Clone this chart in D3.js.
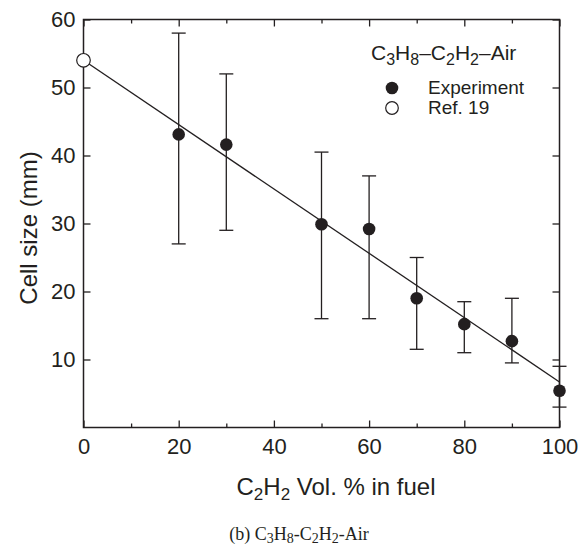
<!DOCTYPE html>
<html>
<head>
<meta charset="utf-8">
<script src="https://cdn.jsdelivr.net/npm/d3@7"></script>
<style>
  html, body { margin: 0; padding: 0; background: #fff; }
  svg { display: block; }
  text { font-family: "Liberation Sans", Arial, Helvetica, sans-serif; fill: #231f20; }
</style>
</head>
<body>
<div id="chart"></div>
<script>
// ---- data ----
const c2h2Pct     = [20, 30, 50, 60, 70, 80, 90, 100];
const cellSize    = [43.1, 41.6, 29.9, 29.2, 19.0, 15.2, 12.7, 5.4];
const errUpper    = [58, 52, 40.5, 37, 25, 18.5, 19, 9];
const errLower    = [27, 29, 16, 16, 11.5, 11, 9.5, 3];
const refPct      = [0];
const refCell     = [54];
const fitPct      = [0, 100];
const fitCell     = [54, 6.7];
const xMajorTicks = [0, 20, 40, 60, 80, 100];
const xMinorTicks = [10, 30, 50, 70, 90];
const yTicks      = [10, 20, 30, 40, 50, 60];

const W = 587, H = 550;
const ink = "#231f20";
const svg = d3.select("#chart").append("svg").attr("width", W).attr("height", H);

const x = d3.scaleLinear().domain([0, 100]).range([83.5, 559.5]);
const y = d3.scaleLinear().domain([0, 60]).range([427.5, 19.5]);

const plot = svg.append("g");

// frame
plot.append("rect")
  .attr("x", x(0)).attr("y", y(60))
  .attr("width", x(100) - x(0)).attr("height", y(0) - y(60))
  .attr("fill", "none").attr("stroke", ink).attr("stroke-width", 1.5);

// bottom axis (ticks inward)
const gxb = plot.append("g").attr("transform", `translate(0,${y(0)})`)
  .call(d3.axisBottom(x).tickValues(xMajorTicks).tickSizeInner(-7).tickSizeOuter(0).tickPadding(11));
const gxbm = plot.append("g").attr("transform", `translate(0,${y(0)})`)
  .call(d3.axisBottom(x).tickValues(xMinorTicks).tickSizeInner(-4).tickSizeOuter(0).tickFormat(""));
// top axis
const gxt = plot.append("g").attr("transform", `translate(0,${y(60)})`)
  .call(d3.axisTop(x).tickValues(xMajorTicks).tickSizeInner(-7).tickSizeOuter(0).tickFormat(""));
const gxtm = plot.append("g").attr("transform", `translate(0,${y(60)})`)
  .call(d3.axisTop(x).tickValues(xMinorTicks).tickSizeInner(-4).tickSizeOuter(0).tickFormat(""));
// left axis
const gyl = plot.append("g").attr("transform", `translate(${x(0)},0)`)
  .call(d3.axisLeft(y).tickValues(yTicks).tickSizeInner(-7).tickSizeOuter(0).tickPadding(8));
// right axis
const gyr = plot.append("g").attr("transform", `translate(${x(100)},0)`)
  .call(d3.axisRight(y).tickValues(yTicks).tickSizeInner(-7).tickSizeOuter(0).tickFormat(""));

[gxb, gxbm, gxt, gxtm, gyl, gyr].forEach(g => {
  g.select(".domain").remove();
  g.selectAll(".tick line").attr("stroke", ink).attr("stroke-width", 1.3);
  g.selectAll(".tick text").attr("font-size", 22).attr("fill", ink)
    .attr("font-family", "Liberation Sans, Arial, sans-serif");
});

// fit line
plot.append("path")
  .datum(fitPct.map((p, i) => [p, fitCell[i]]))
  .attr("d", d3.line().x(d => x(d[0])).y(d => y(d[1])))
  .attr("fill", "none").attr("stroke", ink).attr("stroke-width", 1.3);

// error bars
const eb = plot.append("g").attr("stroke", ink).attr("stroke-width", 1.3);
c2h2Pct.forEach((p, i) => {
  eb.append("line").attr("x1", x(p)).attr("x2", x(p)).attr("y1", y(errUpper[i])).attr("y2", y(errLower[i]));
  eb.append("line").attr("x1", x(p) - 7).attr("x2", x(p) + 7).attr("y1", y(errUpper[i])).attr("y2", y(errUpper[i]));
  eb.append("line").attr("x1", x(p) - 7).attr("x2", x(p) + 7).attr("y1", y(errLower[i])).attr("y2", y(errLower[i]));
});

// experiment points
plot.append("g").selectAll("circle").data(c2h2Pct).join("circle")
  .attr("cx", d => x(d)).attr("cy", (d, i) => y(cellSize[i])).attr("r", 6.3)
  .attr("fill", ink);

// ref points
plot.append("g").selectAll("circle").data(refPct).join("circle")
  .attr("cx", d => x(d)).attr("cy", (d, i) => y(refCell[i])).attr("r", 6.8)
  .attr("fill", "#fff").attr("stroke", ink).attr("stroke-width", 1.2);

// helper for chemical formulas with subscripts
function chem(textSel, parts, subSize, subDy) {
  let off = 0;
  parts.forEach(([s, isSub]) => {
    const t = textSel.append("tspan").text(s);
    if (isSub) {
      t.attr("font-size", subSize).attr("dy", subDy - off);
      off = subDy;
    } else {
      t.attr("dy", -off);
      off = 0;
    }
  });
}

// legend
const lg = svg.append("g");
const lt = lg.append("text").attr("x", 371).attr("y", 60).attr("font-size", 21);
chem(lt, [["C"], ["3", 1], ["H"], ["8", 1], ["–C"], ["2", 1], ["H"], ["2", 1], ["–Air"]], 16, 5);
lg.append("circle").attr("cx", 392).attr("cy", 88).attr("r", 6.3).attr("fill", ink);
lg.append("circle").attr("cx", 392).attr("cy", 108).attr("r", 6.3).attr("fill", "#fff").attr("stroke", ink).attr("stroke-width", 1.2);
lg.append("text").attr("x", 428).attr("y", 94).attr("font-size", 19).text("Experiment");
lg.append("text").attr("x", 428).attr("y", 114).attr("font-size", 19).text("Ref. 19");

// axis titles
const xt = svg.append("text").attr("x", 336).attr("y", 495)
  .attr("text-anchor", "middle").attr("font-size", 24);
chem(xt, [["C"], ["2", 1], ["H"], ["2", 1], [" Vol. % in fuel"]], 17, 5);

svg.append("text")
  .attr("transform", `translate(37,228) rotate(-90)`)
  .attr("text-anchor", "middle").attr("font-size", 24)
  .text("Cell size (mm)");

// caption
const cap = svg.append("text").attr("x", 299).attr("y", 540)
  .attr("text-anchor", "middle").attr("font-size", 18)
  .style("font-family", "'Liberation Serif', 'Times New Roman', serif");
chem(cap, [["(b) C"], ["3", 1], ["H"], ["8", 1], ["-C"], ["2", 1], ["H"], ["2", 1], ["-Air"]], 14, 3);
</script>
</body>
</html>
